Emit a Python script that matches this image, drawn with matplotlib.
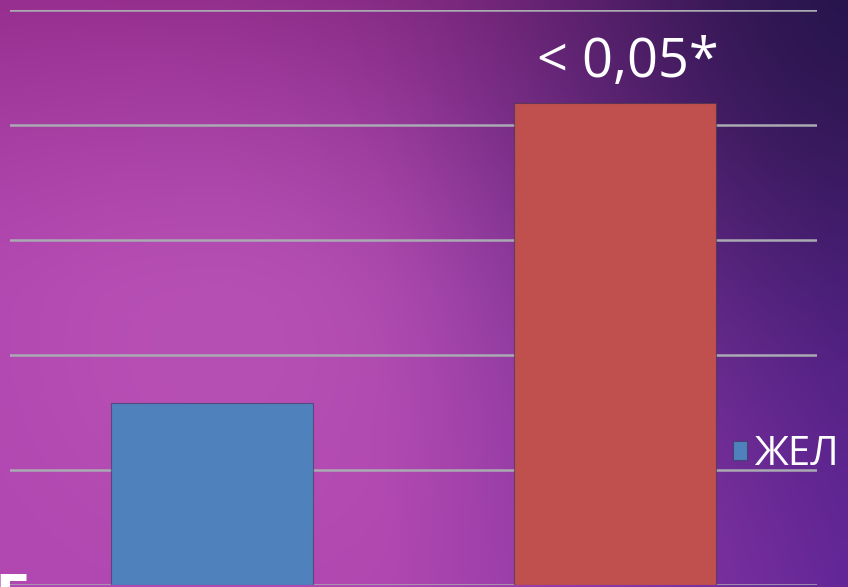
import numpy as np
import matplotlib
matplotlib.use("Agg")
import matplotlib.pyplot as plt

plt.rcParams['font.family'] = ['Open Sans', 'DejaVu Sans']

# Data
categories = ["1", "2"]
values = [1.58, 4.19]
bar_colors = ["#4f81bd", "#c0504d"]
series_label = "ЖЕЛ"
p_label = "< 0,05*"

W, H, DPI = 848, 587, 100
fig = plt.figure(figsize=(W / DPI, H / DPI), dpi=DPI)

# Purple background gradient
bg = fig.add_axes([0, 0, 1, 1])
bg.set_axis_off()
yy, xx = np.mgrid[0:H, 0:W].astype(float)
magenta = np.array([176, 70, 176]) / 255
purple = np.array([104, 40, 156]) / 255
topcol = np.array([145, 42, 136]) / 255
dark = np.array([34, 20, 74]) / 255
light = np.array([196, 96, 190]) / 255

img = np.ones((H, W, 3)) * magenta
wp = np.clip((xx - 380) / 460, 0, 1)[..., None] ** 1.1
img = img * (1 - wp) + purple * wp
wt = (np.clip(1 - yy / 300, 0, 1) ** 1.4 * 0.85)[..., None]
img = img * (1 - wt) + topcol * wt
d2 = (xx - 880) ** 2 + (yy + 30) ** 2
wd = np.exp(-d2 / (2 * 260 ** 2))[..., None] * 0.95
img = img * (1 - wd) + dark * wd
r2 = (xx - 230) ** 2 + (yy - 340) ** 2
wl = np.exp(-r2 / (2 * 160 ** 2))[..., None] * 0.4
img = img * (1 - wl) + light * wl
bg.imshow(np.clip(img, 0, 1), extent=[0, 1, 0, 1], aspect='auto', zorder=0)
bg.set_xlim(0, 1)
bg.set_ylim(0, 1)

# Bar chart
ax = fig.add_axes([10 / W, 2 / H, 807 / W, 575 / H])
ax.patch.set_alpha(0)
x = np.arange(len(categories))
bars = ax.bar(x, values, width=0.5, color=bar_colors,
              edgecolor=(0.2, 0.2, 0.3, 0.55), linewidth=0.8, zorder=3)
ax.set_xlim(-0.5, 1.5)
ax.set_ylim(0, 5)
ax.set_yticks(np.arange(0, 6, 1))
ax.yaxis.grid(True, color="#aaaab2", linewidth=1.8, zorder=1)
ax.set_axisbelow(True)
for s in ax.spines.values():
    s.set_visible(False)
ax.tick_params(left=False, bottom=False, labelleft=False, labelbottom=False)

ax.text(x[1] + 0.03, values[1] + 0.11, p_label, ha='center', va='bottom',
        color='white', fontsize=39, zorder=4)

leg = ax.legend(handles=[bars[0]], labels=[series_label], frameon=False,
                loc='center left', bbox_to_anchor=(733 / W, 1 - 455 / H),
                bbox_transform=fig.transFigure, fontsize=29,
                handlelength=0.34, handleheight=0.34, handletextpad=0.2,
                borderpad=0, borderaxespad=0, labelcolor='white')

# Partially visible title letter at the bottom edge
fig.text(-0.006, 1 - 572 / H, "Г", color='white', fontsize=36,
         fontweight='bold', ha='left', va='top', family='DejaVu Sans')

fig.savefig("out.png", dpi=DPI)
